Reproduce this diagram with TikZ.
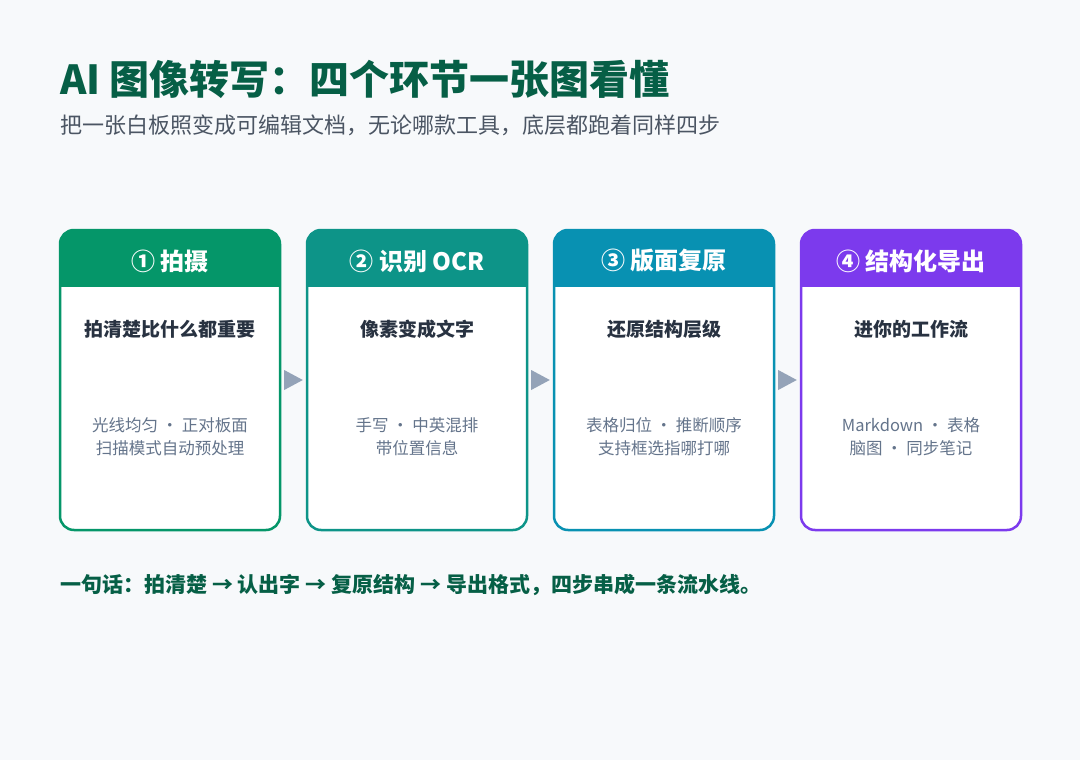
\documentclass[tikz,border=0pt]{standalone}
\usepackage{fontspec}
\setmainfont{Noto Sans CJK SC}
\usetikzlibrary{calc}
\definecolor{bgc}{HTML}{F7F9FB}
\definecolor{titlegreen}{HTML}{065F46}
\definecolor{subgray}{HTML}{4B5563}
\definecolor{darktext}{HTML}{283241}
\definecolor{notegray}{HTML}{64748B}
\definecolor{arrowgray}{HTML}{94A3B8}
\definecolor{cA}{HTML}{059669}
\definecolor{cB}{HTML}{0D9488}
\definecolor{cC}{HTML}{0891B2}
\definecolor{cD}{HTML}{7C3AED}
\tikzset{
  hdr/.style={text=white, font=\fontsize{24}{28}\selectfont\bfseries, inner sep=0pt},
  btitle/.style={text=darktext, font=\fontsize{19}{23}\selectfont\bfseries, inner sep=0pt},
  bnote/.style={text=notegray, font=\fontsize{16.5}{23}\selectfont, align=center, inner sep=0pt},
  cardbox/.style={minimum width=220pt, minimum height=300pt, inner sep=0pt},
  flowtip/.style={fill=arrowgray},
}
\newcommand\stepcard[7]{%
  \fill[white, rounded corners=14pt] (#1,230) rectangle ++(220,300);
  \begin{scope}
    \clip[rounded corners=14pt] (#1,230) rectangle ++(220,300);
    \fill[#2] (#1,230) rectangle ++(220,57);
  \end{scope}
  \draw[#2, line width=2.5pt, rounded corners=14pt] (#1,230) rectangle ++(220,300);
  \node[cardbox] (#3) at (#1+110,380) {};
  \node[hdr] (#3h) at (#1+110,261) {#4};
  \node[btitle] (#3t) at (#1+110,329) {#5};
  \node[bnote] (#3n) at (#1+110,437) {#6\\#7};
}
\newcommand\flowarrow[2]{%
  \fill[flowtip] ($(#1.east)+(4,-10)$) -- ($(#2.west)+(-4,0)$) -- ($(#1.east)+(4,10)$) -- cycle;
}
\begin{document}
\begin{tikzpicture}[x=1pt,y=-1pt]
\useasboundingbox (0,0) rectangle (1080,760);
\fill[bgc] (0,0) rectangle (1080,760);

\node[anchor=base west, inner sep=0pt, text=titlegreen, font=\fontsize{40}{46}\selectfont\bfseries] (title) at (60,95) {AI 图像转写：四个环节一张图看懂};
\node[anchor=base west, inner sep=0pt, text=subgray, font=\fontsize{22}{26}\selectfont] (sub) at (60,133) {把一张白板照变成可编辑文档，无论哪款工具，底层都跑着同样四步};

\stepcard{60}{cA}{c1}{① 拍摄}{拍清楚比什么都重要}{光线均匀 · 正对板面}{扫描模式自动预处理}
\stepcard{307}{cB}{c2}{② 识别 OCR}{像素变成文字}{手写 · 中英混排}{带位置信息}
\stepcard{554}{cC}{c3}{③ 版面复原}{还原结构层级}{表格归位 · 推断顺序}{支持框选指哪打哪}
\stepcard{801}{cD}{c4}{④ 结构化导出}{进你的工作流}{Markdown · 表格}{脑图 · 同步笔记}

\flowarrow{c1}{c2}
\flowarrow{c2}{c3}
\flowarrow{c3}{c4}

\node[anchor=base west, inner sep=0pt, text=titlegreen, font=\fontsize{21}{25}\selectfont\bfseries] (foot) at (60,592) {一句话：拍清楚 → 认出字 → 复原结构 → 导出格式，四步串成一条流水线。};
\end{tikzpicture}
\end{document}
